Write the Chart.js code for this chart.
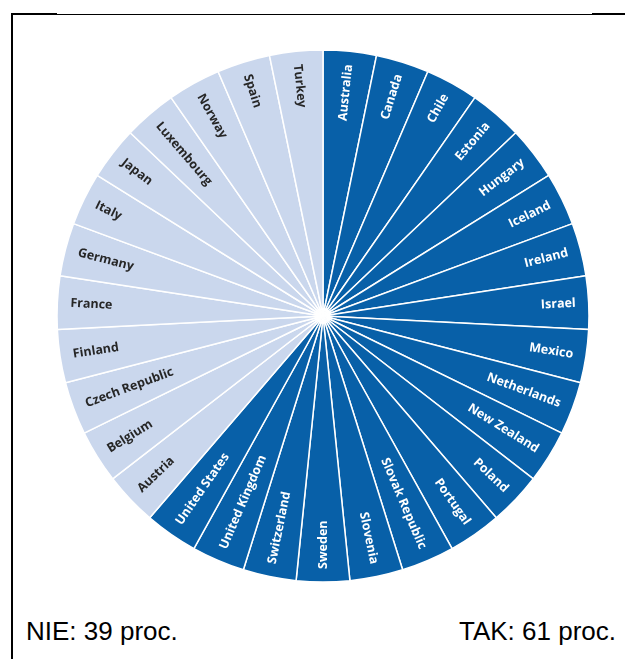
<!DOCTYPE html>
<html>
<head>
<meta charset="utf-8">
<script src="https://cdn.jsdelivr.net/npm/chart.js@4"></script>
<style>
  body { margin: 0; background: #fff; }
  #page { position: relative; width: 625px; height: 659px; overflow: hidden; }
  #pieBox { position: absolute; left: 53px; top: 46px; width: 540px; height: 540px; }
  .line { position: absolute; background: #000; }
  .sum { position: absolute; top: 616px; font: 26px "Liberation Sans", Arial, sans-serif; color: #000; white-space: nowrap; }
</style>
</head>
<body>
<div id="page">
  <div class="line" style="left:11px; top:13px; width:46px; height:2px;"></div>
  <div class="line" style="left:57px; top:14px; width:535px; height:1px;"></div>
  <div class="line" style="left:592px; top:13px; width:33px; height:2px;"></div>
  <div class="line" style="left:11px; top:13px; width:2px; height:646px;"></div>

  <div id="pieBox"><canvas id="pie"></canvas></div>

  <div class="sum" id="noText" style="left:26px;"></div>
  <div class="sum" id="yesText" style="right:9px;"></div>
</div>

<script>
/* =========================
   DATA
========================= */

const yesCountries = [
    "Australia", "Canada", "Chile", "Estonia", "Hungary", "Iceland",
    "Ireland", "Israel", "Mexico", "Netherlands", "New Zealand", "Poland",
    "Portugal", "Slovak Republic", "Slovenia", "Sweden", "Switzerland",
    "United Kingdom", "United States"
];

const noCountries = [
    "Austria", "Belgium", "Czech Republic", "Finland", "France", "Germany",
    "Italy", "Japan", "Luxembourg", "Norway", "Spain", "Turkey"
];

// one equal slice per country
const yesValues = [1, 1, 1, 1, 1, 1, 1, 1, 1, 1, 1, 1, 1, 1, 1, 1, 1, 1, 1];
const noValues  = [1, 1, 1, 1, 1, 1, 1, 1, 1, 1, 1, 1];

const darkBlue  = "#0860A8";
const lightBlue = "#CAD7ED";


/* =========================
   SUMMARY TEXT
========================= */

const yesSum = yesValues.reduce((a, b) => a + b, 0);
const noSum  = noValues.reduce((a, b) => a + b, 0);

document.getElementById("noText").innerText =
    "NIE: " + Math.round(noSum / (yesSum + noSum) * 100) + " proc.";
document.getElementById("yesText").innerText =
    "TAK: " + Math.round(yesSum / (yesSum + noSum) * 100) + " proc.";


/* =========================
   RADIAL LABELS PLUGIN
========================= */

const radialLabels = {
    id: 'radialLabels',

    afterDatasetsDraw(chart) {

        const ctx = chart.ctx;
        const meta = chart.getDatasetMeta(0);
        const labels = chart.data.labels;
        const pad = 13;

        ctx.save();
        ctx.font = 'bold 12.5px "Open Sans", Lato, sans-serif';
        ctx.textBaseline = 'middle';

        meta.data.forEach((arc, i) => {

            const p = arc.getProps(['x', 'y', 'startAngle', 'endAngle', 'outerRadius'], true);
            const mid = (p.startAngle + p.endAngle) / 2;
            const deg = (mid + Math.PI / 2) * 180 / Math.PI;

            ctx.save();
            ctx.translate(p.x, p.y);
            ctx.fillStyle = i < yesCountries.length ? '#ffffff' : '#262626';

            if (deg < 179.9) {
                // right half: text runs outward
                ctx.rotate(mid);
                ctx.textAlign = 'right';
                ctx.fillText(labels[i], p.outerRadius - pad, 0);
            } else {
                // left half: text flipped so it stays readable
                ctx.rotate(mid + Math.PI);
                ctx.textAlign = 'left';
                ctx.fillText(labels[i], -(p.outerRadius - pad), 0);
            }

            ctx.restore();
        });

        ctx.restore();
    }
};


/* =========================
   CHART
========================= */

const colors = yesValues.map(() => darkBlue).concat(noValues.map(() => lightBlue));

new Chart(document.getElementById('pie'), {

    type: 'pie',

    data: {
        labels: yesCountries.concat(noCountries),
        datasets: [{
            data: yesValues.concat(noValues),
            backgroundColor: colors,
            borderColor: '#ffffff',
            borderWidth: 1.5,
            hoverOffset: 0
        }]
    },

    options: {
        responsive: true,
        maintainAspectRatio: false,
        animation: false,
        radius: 266,
        layout: { padding: 0 },
        plugins: {
            legend: { display: false },
            tooltip: { enabled: false }
        }
    },

    plugins: [radialLabels]
});
</script>
</body>
</html>
